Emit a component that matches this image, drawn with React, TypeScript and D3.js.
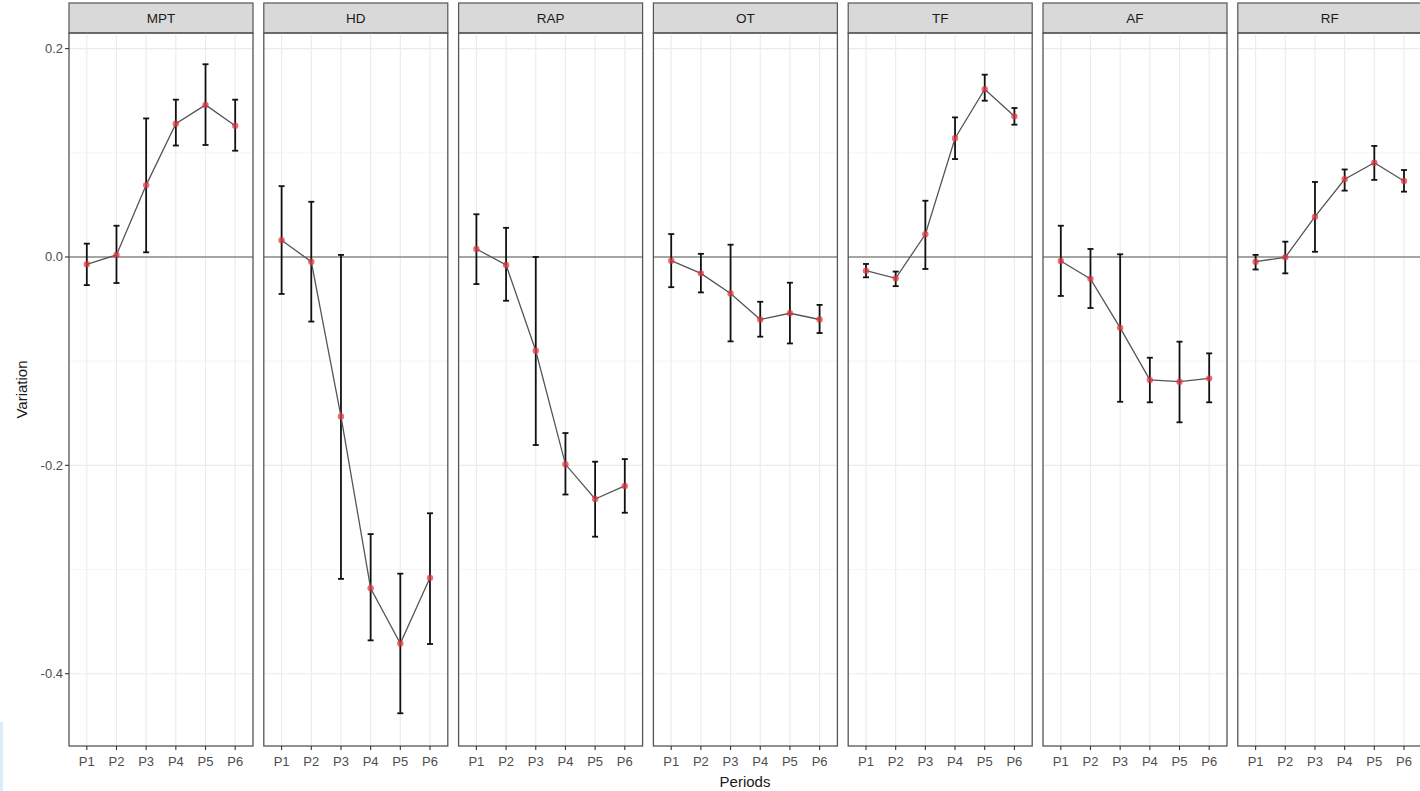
import React from "react";
import * as d3 from "d3";

const categories = ["MPT", "HD", "RAP", "OT", "TF", "AF", "RF"];
const periods = ["P1", "P2", "P3", "P4", "P5", "P6"];
const yTicks = [0.2, 0.0, -0.2, -0.4];
const yTickLabels = ["0.2", "0.0", "-0.2", "-0.4"];
const yMinorTicks = [0.1, -0.1, -0.3];

const mptMean = [-0.007, 0.002, 0.069, 0.128, 0.146, 0.126];
const mptLow = [-0.027, -0.025, 0.0045, 0.107, 0.1075, 0.102];
const mptHigh = [0.0128, 0.03, 0.133, 0.151, 0.185, 0.151];

const hdMean = [0.016, -0.0045, -0.153, -0.318, -0.371, -0.308];
const hdLow = [-0.0355, -0.062, -0.309, -0.368, -0.438, -0.3715];
const hdHigh = [0.068, 0.053, 0.002, -0.266, -0.304, -0.246];

const rapMean = [0.0077, -0.0077, -0.09, -0.199, -0.2323, -0.2198];
const rapLow = [-0.026, -0.042, -0.1805, -0.228, -0.2685, -0.2455];
const rapHigh = [0.041, 0.028, 0.0, -0.169, -0.1965, -0.194];

const otMean = [-0.0035, -0.0157, -0.035, -0.06, -0.054, -0.06];
const otLow = [-0.029, -0.034, -0.081, -0.0765, -0.083, -0.073];
const otHigh = [0.022, 0.003, 0.0118, -0.043, -0.0247, -0.046];

const tfMean = [-0.0132, -0.0205, 0.0218, 0.114, 0.161, 0.135];
const tfLow = [-0.0195, -0.028, -0.0115, 0.094, 0.15, 0.127];
const tfHigh = [-0.0067, -0.014, 0.054, 0.134, 0.175, 0.143];

const afMean = [-0.0038, -0.021, -0.068, -0.118, -0.1197, -0.1165];
const afLow = [-0.0374, -0.049, -0.139, -0.1395, -0.1587, -0.1395];
const afHigh = [0.03, 0.0077, 0.0026, -0.0967, -0.0813, -0.0925];

const rfMean = [-0.0045, -0.0003, 0.0387, 0.0746, 0.0905, 0.073];
const rfLow = [-0.012, -0.0157, 0.005, 0.0637, 0.074, 0.0627];
const rfHigh = [0.002, 0.0147, 0.072, 0.084, 0.1066, 0.0835];

const means = [mptMean, hdMean, rapMean, otMean, tfMean, afMean, rfMean];
const lows = [mptLow, hdLow, rapLow, otLow, tfLow, afLow, rfLow];
const highs = [mptHigh, hdHigh, rapHigh, otHigh, tfHigh, afHigh, rfHigh];

const W = 1420;
const H = 791;
const panelLeft0 = 69;
const panelW = 184;
const panelStep = 194.8;
const plotTop = 33;
const plotBottom = 746;
const stripTop = 3;
const FONT = "'Liberation Sans', Arial, Helvetica, sans-serif";

export default function App() {
  const y = d3.scaleLinear().domain([-0.4694, 0.215]).range([plotBottom, plotTop]);
  const line = d3.line<[number, number]>().x((d) => d[0]).y((d) => d[1]);

  return (
    <svg
      width={W}
      height={H}
      style={{ position: "absolute", left: 0, top: 0, background: "#fff" }}
      fontFamily={FONT}
    >
      <rect x={0} y={0} width={W} height={H} fill="#fff" />
      <rect x={0} y={722} width={3} height={69} fill="#dcedfa" />
      {categories.map((cat, ci) => {
        const left = panelLeft0 + ci * panelStep;
        const x = d3.scalePoint<string>().domain(periods).range([left, left + panelW]).padding(0.6);
        const m = means[ci];
        const lo = lows[ci];
        const hi = highs[ci];
        const pts: [number, number][] = periods.map((p, i) => [x(p)!, y(m[i])]);
        return (
          <g key={cat}>
            <rect x={left} y={stripTop} width={panelW} height={plotTop - stripTop} fill="#d9d9d9" stroke="#555" strokeWidth={1.2} />
            <text x={left + panelW / 2} y={(stripTop + plotTop) / 2} textAnchor="middle" dominantBaseline="central" fontSize={13.5} fill="#1a1a1a">
              {cat}
            </text>
            {yMinorTicks.map((t) => (
              <line key={"mn" + t} x1={left} x2={left + panelW} y1={y(t)} y2={y(t)} stroke="#f0f0f0" strokeWidth={0.7} />
            ))}
            {yTicks.map((t) => (
              <line key={"mj" + t} x1={left} x2={left + panelW} y1={y(t)} y2={y(t)} stroke="#ebebeb" strokeWidth={1.1} />
            ))}
            {periods.map((p) => (
              <line key={"vx" + p} x1={x(p)} x2={x(p)} y1={plotTop} y2={plotBottom} stroke="#ebebeb" strokeWidth={1.1} />
            ))}
            <line x1={left} x2={left + panelW} y1={y(0)} y2={y(0)} stroke="#8a8a8a" strokeWidth={1.3} />
            {periods.map((p, i) => (
              <g key={"eb" + p} stroke="#111" strokeWidth={1.8}>
                <line x1={x(p)} x2={x(p)} y1={y(hi[i])} y2={y(lo[i])} />
                <line x1={x(p)! - 3} x2={x(p)! + 3} y1={y(hi[i])} y2={y(hi[i])} />
                <line x1={x(p)! - 3} x2={x(p)! + 3} y1={y(lo[i])} y2={y(lo[i])} />
              </g>
            ))}
            <path d={line(pts) || ""} fill="none" stroke="#555" strokeWidth={1.3} />
            {pts.map((pt, i) => (
              <circle key={"pt" + i} cx={pt[0]} cy={pt[1]} r={3.2} fill="#e0303a" fillOpacity={0.7} />
            ))}
            <rect x={left} y={plotTop} width={panelW} height={plotBottom - plotTop} fill="none" stroke="#555" strokeWidth={1.3} />
            {periods.map((p) => (
              <g key={"xt" + p}>
                <line x1={x(p)} x2={x(p)} y1={plotBottom} y2={plotBottom + 4} stroke="#333" strokeWidth={1.1} />
                <text x={x(p)} y={plotBottom + 15} textAnchor="middle" dominantBaseline="central" fontSize={13} fill="#4d4d4d">
                  {p}
                </text>
              </g>
            ))}
          </g>
        );
      })}
      {yTicks.map((t, i) => (
        <g key={"yt" + t}>
          <line x1={panelLeft0 - 4} x2={panelLeft0} y1={y(t)} y2={y(t)} stroke="#333" strokeWidth={1.1} />
          <text x={panelLeft0 - 6} y={y(t)} textAnchor="end" dominantBaseline="central" fontSize={13} fill="#4d4d4d">
            {yTickLabels[i]}
          </text>
        </g>
      ))}
      <text
        x={21}
        y={(plotTop + plotBottom) / 2}
        textAnchor="middle"
        dominantBaseline="central"
        fontSize={15}
        fill="#1a1a1a"
        transform={`rotate(-90, 21, ${(plotTop + plotBottom) / 2})`}
      >
        Variation
      </text>
      <text x={745} y={781} textAnchor="middle" dominantBaseline="central" fontSize={15} fill="#1a1a1a">
        Periods
      </text>
    </svg>
  );
}
